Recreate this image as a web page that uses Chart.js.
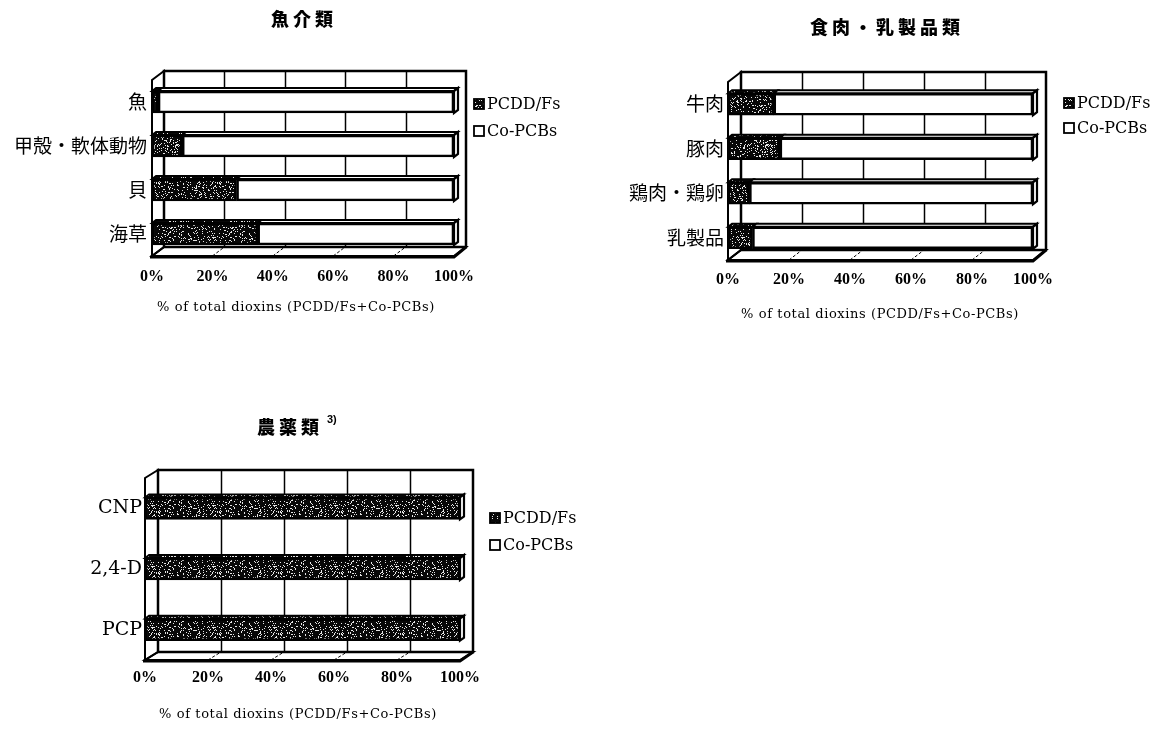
<!DOCTYPE html>
<html lang="ja">
<head>
<meta charset="utf-8">
<title>ダイオキシン類の構成比</title>
<script src="https://cdn.jsdelivr.net/npm/chart.js@4.4.1/dist/chart.umd.min.js"></script>
<style>
  html, body { margin: 0; padding: 0; background: #fff; }
  body { width: 1169px; height: 731px; position: relative; overflow: hidden; }
  canvas { position: absolute; }
</style>
</head>
<body>
<canvas id="seafood" width="590" height="340" style="left:0;top:0"></canvas>
<canvas id="meat" width="579" height="340" style="left:590px;top:0"></canvas>
<canvas id="pesticide" width="590" height="341" style="left:0;top:390px"></canvas>
<script>
// ---- data ----
const seriesNames = ['PCDD/Fs', 'Co-PCBs'];
const axisTitle = '% of total dioxins (PCDD/Fs+Co-PCBs)';
const percentTicks = [0, 20, 40, 60, 80, 100];

const seafoodTitle = '魚介類';
const seafoodCats = ['魚', '甲殻・軟体動物', '貝', '海草'];
const seafoodPcdd = [2, 10, 28, 35];
const seafoodCopcb = [98, 90, 72, 65];

const meatTitle = '食肉・乳製品類';
const meatCats = ['牛肉', '豚肉', '鶏肉・鶏卵', '乳製品'];
const meatPcdd = [15, 17, 7, 8];
const meatCopcb = [85, 83, 93, 92];

const pesticideTitle = '農薬類';
const pesticideNote = '3)';
const pesticideCats = ['CNP', '2,4-D', 'PCP'];
const pesticidePcdd = [100, 100, 100];
const pesticideCopcb = [0, 0, 0];

// ---- speckled dark fill used for PCDD/Fs ----
function makeStipple() {
  const n = 61;
  const c = document.createElement('canvas');
  c.width = n; c.height = n;
  const g = c.getContext('2d');
  g.fillStyle = '#080808';
  g.fillRect(0, 0, n, n);
  const img = g.getImageData(0, 0, n, n);
  for (let y = 0; y < n; y++) {
    for (let x = 0; x < n; x++) {
      let h = (Math.imul(x, 374761393) + Math.imul(y, 668265263)) >>> 0;
      h = Math.imul(h ^ (h >>> 13), 1274126177) >>> 0;
      h = (h ^ (h >>> 16)) >>> 0;
      if ((h & 255) < 40) {
        const i = (y * n + x) * 4;
        img.data[i] = img.data[i + 1] = img.data[i + 2] = 230;
      }
    }
  }
  g.putImageData(img, 0, 0);
  return g.createPattern(c, 'repeat');
}
const stipple = makeStipple();

// ---- 3-D frame, bar depth, titles and legend ----
function poly(ctx, pts) {
  ctx.beginPath();
  ctx.moveTo(pts[0][0], pts[0][1]);
  for (let i = 1; i < pts.length; i++) ctx.lineTo(pts[i][0], pts[i][1]);
  ctx.closePath();
}

const frame3d = {
  id: 'frame3d',
  beforeDatasetsDraw(chart, args, o) {
    const { ctx, chartArea: a, scales: { x } } = chart;
    const dx = o.dx, dy = o.dy;
    ctx.save();
    ctx.strokeStyle = '#000';
    // back wall
    ctx.lineWidth = 2.5;
    ctx.strokeRect(a.left + dx, a.top + dy, a.width, a.height);
    // back wall gridlines
    ctx.lineWidth = 1.5;
    x.ticks.forEach(t => {
      if (t.value <= 0 || t.value >= 100) return;
      const px = Math.round(x.getPixelForValue(t.value) + dx) + 0.5;
      ctx.beginPath();
      ctx.moveTo(px, a.top + dy);
      ctx.lineTo(px, a.bottom + dy);
      ctx.stroke();
    });
    // left side wall
    ctx.lineWidth = 2;
    poly(ctx, [[a.left, a.top], [a.left + dx, a.top + dy], [a.left + dx, a.bottom + dy], [a.left, a.bottom]]);
    ctx.stroke();
    // floor
    poly(ctx, [[a.left, a.bottom], [a.right, a.bottom], [a.right + dx, a.bottom + dy], [a.left + dx, a.bottom + dy]]);
    ctx.stroke();
    ctx.lineWidth = 3;
    ctx.beginPath();
    ctx.moveTo(a.left - 2, a.bottom + 1);
    ctx.lineTo(a.right, a.bottom + 1);
    ctx.lineTo(a.right + dx, a.bottom + dy);
    ctx.stroke();
    // floor gridlines
    ctx.lineWidth = 1;
    ctx.setLineDash([3, 2]);
    x.ticks.forEach(t => {
      if (t.value <= 0 || t.value >= 100) return;
      const px = x.getPixelForValue(t.value);
      ctx.beginPath();
      ctx.moveTo(px, a.bottom);
      ctx.lineTo(px + dx, a.bottom + dy);
      ctx.stroke();
    });
    ctx.restore();
  },
  afterDatasetsDraw(chart, args, o) {
    const ctx = chart.ctx;
    const bx = o.barDx, by = o.barDy;
    const metas = chart.getSortedVisibleDatasetMetas();
    const count = chart.data.labels.length;
    ctx.save();
    ctx.strokeStyle = '#000';
    ctx.lineWidth = 1.8;
    for (let i = 0; i < count; i++) {
      let last = null;
      metas.forEach(meta => {
        const el = meta.data[i];
        const p = el.getProps(['x', 'y', 'base', 'height'], true);
        const left = Math.min(p.base, p.x), right = Math.max(p.base, p.x);
        if (right - left < 0.5) return;
        const top = p.y - p.height / 2;
        poly(ctx, [[left, top], [right, top], [right + bx, top + by], [left + bx, top + by]]);
        ctx.fillStyle = chart.data.datasets[meta.index].backgroundColor;
        ctx.fill();
        ctx.stroke();
        if (!last || right > last.right) last = { right, top, bottom: p.y + p.height / 2 };
      });
      if (last) {
        poly(ctx, [[last.right, last.top], [last.right + bx, last.top + by],
                   [last.right + bx, last.bottom + by], [last.right, last.bottom]]);
        ctx.fillStyle = '#fff';
        ctx.fill();
        ctx.lineWidth = 2.2;
        ctx.stroke();
        ctx.lineWidth = 1.8;
      }
    }
    ctx.restore();
  },
  afterDraw(chart, args, o) {
    const ctx = chart.ctx;
    ctx.save();
    ctx.fillStyle = '#000';
    // chart title
    ctx.font = "900 18px 'Noto Sans CJK JP'";
    ctx.letterSpacing = '4px';
    ctx.textAlign = 'center';
    ctx.textBaseline = 'middle';
    ctx.fillText(o.title.text, o.title.x, o.title.y);
    if (o.title.note) {
      const w = ctx.measureText(o.title.text).width;
      ctx.letterSpacing = '0px';
      ctx.font = "bold 11px 'Liberation Sans'";
      ctx.textAlign = 'left';
      ctx.fillText(o.title.note, o.title.x + w / 2 + 4, o.title.y - 7);
    }
    // axis title
    ctx.letterSpacing = '0.6px';
    ctx.font = "13px 'DejaVu Serif'";
    ctx.textAlign = 'center';
    ctx.fillText(axisTitle, o.axis.x, o.axis.y);
    // legend
    ctx.letterSpacing = '0px';
    ctx.font = "16px 'DejaVu Serif'";
    ctx.textAlign = 'left';
    chart.data.datasets.forEach((ds, k) => {
      const cy = o.legend.y + k * o.legend.gap;
      const s = 10;
      ctx.fillStyle = ds.backgroundColor;
      ctx.fillRect(o.legend.x - s / 2, cy - s / 2, s, s);
      ctx.strokeStyle = '#000';
      ctx.lineWidth = 1.8;
      ctx.strokeRect(o.legend.x - s / 2, cy - s / 2, s, s);
      ctx.fillStyle = '#000';
      ctx.fillText(ds.label, o.legend.x + 8, cy + 1);
    });
    ctx.restore();
  }
};

// ---- shared chart builder ----
const tickFont = { family: "'Liberation Serif'", size: 16, weight: 'bold' };

function buildChart(id, cats, pcdd, copcb, cfg) {
  return new Chart(document.getElementById(id), {
    type: 'bar',
    data: {
      labels: cats,
      datasets: [
        { label: seriesNames[0], data: pcdd, backgroundColor: stipple },
        { label: seriesNames[1], data: copcb, backgroundColor: '#ffffff' }
      ]
    },
    options: {
      indexAxis: 'y',
      responsive: false,
      animation: false,
      devicePixelRatio: 1,
      layout: { padding: cfg.padding },
      datasets: {
        bar: { borderColor: '#000', borderWidth: 2.6, borderSkipped: false, barThickness: 22 }
      },
      scales: {
        x: {
          type: 'linear', min: 0, max: 100, stacked: true,
          afterBuildTicks: s => { s.ticks = percentTicks.map(v => ({ value: v })); },
          ticks: {
            callback: v => v + '%', autoSkip: false, maxRotation: 0,
            padding: cfg.tickPad, color: '#000', font: tickFont
          },
          grid: { display: false, drawTicks: false },
          border: { display: false },
          afterFit: s => { s.height = 40; }
        },
        y: {
          type: 'category', stacked: true,
          ticks: { padding: cfg.labelPad, color: '#000', font: cfg.labelFont },
          grid: { display: false, drawTicks: false },
          border: { display: false },
          afterFit: s => { s.width = cfg.yWidth; }
        }
      },
      plugins: {
        legend: { display: false },
        tooltip: { enabled: false },
        frame3d: cfg.frame
      }
    },
    plugins: [frame3d]
  });
}

const cjkLabel = { family: "'Noto Sans CJK JP'", size: 19 };
const latinLabel = { family: "'DejaVu Serif'", size: 19 };

buildChart('seafood', seafoodCats, seafoodPcdd, seafoodCopcb, {
  padding: { left: 12, right: 136, top: 80, bottom: 44 },
  yWidth: 140, tickPad: 11, labelPad: 5, labelFont: cjkLabel,
  frame: {
    dx: 12, dy: -9, barDx: 4, barDy: -3,
    title: { text: seafoodTitle, x: 304, y: 19 },
    axis: { x: 296, y: 308 },
    legend: { x: 479, y: 104, gap: 27 }
  }
});

buildChart('meat', meatCats, meatPcdd, meatCopcb, {
  padding: { left: 8, right: 136, top: 82, bottom: 40 },
  yWidth: 130, tickPad: 10, labelPad: 4, labelFont: cjkLabel,
  frame: {
    dx: 13, dy: -10, barDx: 4, barDy: -3,
    title: { text: meatTitle, x: 297, y: 27 },
    axis: { x: 290, y: 315 },
    legend: { x: 479, y: 103, gap: 25 }
  }
});

buildChart('pesticide', pesticideCats, pesticidePcdd, pesticideCopcb, {
  padding: { left: 9, right: 130, top: 88, bottom: 31 },
  yWidth: 136, tickPad: 8, labelPad: 3, labelFont: latinLabel,
  frame: {
    dx: 13, dy: -8, barDx: 4, barDy: -3,
    title: { text: pesticideTitle, note: pesticideNote, x: 290, y: 37 },
    axis: { x: 298, y: 325 },
    legend: { x: 495, y: 128, gap: 27 }
  }
});
</script>
</body>
</html>
